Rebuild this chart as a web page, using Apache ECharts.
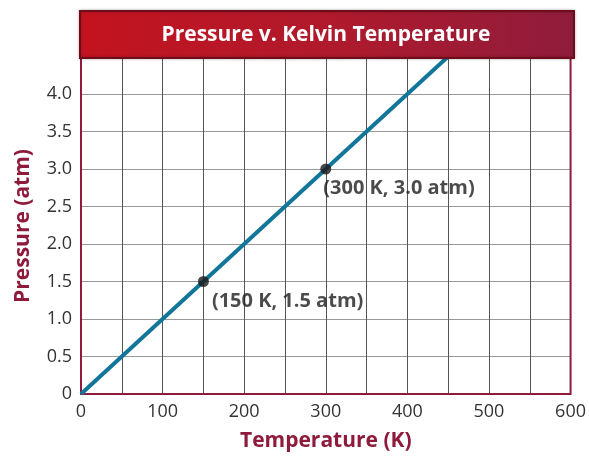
<!DOCTYPE html>
<html><head><meta charset="utf-8">
<script src="https://cdn.jsdelivr.net/npm/echarts@6/dist/echarts.min.js"></script>
<style>html,body{margin:0;padding:0;background:#fff}#c{width:589px;height:458px}</style>
</head><body><div id="c"></div>
<script>
const titleText = 'Pressure v. Kelvin Temperature';
const xAxisName = 'Temperature (K)';
const yAxisName = 'Pressure (atm)';
const temperatures = [0, 150, 300, 450];
const pressures = [0, 1.5, 3.0, 4.5];
const markedTemps = [150, 300];
const markedPressures = [1.5, 3.0];

const maroon = '#8e1b3b';
const font = '"Open Sans", "Noto Sans", sans-serif';
const chart = echarts.init(document.getElementById('c'), null, {renderer: 'canvas'});
const labelOffsets = [[14, 25], [3, 25]];
chart.setOption({
  backgroundColor: '#fff',
  animation: false,
  grid: {left: 81, right: 18, top: 58, bottom: 64, show: true, borderColor: maroon, borderWidth: 2, z: 3},
  graphic: [{
    type: 'rect', x: 80, y: 11, z: 10,
    shape: {width: 494, height: 47},
    style: {
      fill: new echarts.graphic.LinearGradient(0, 0, 1, 0, [
        {offset: 0, color: '#c3131f'}, {offset: 0.5, color: '#b01a2c'}, {offset: 1, color: '#8f1c3c'}]),
      stroke: '#6e0c1c', lineWidth: 2,
      shadowBlur: 3, shadowColor: 'rgba(0,0,0,0.25)'
    }
  }, {
    type: 'text', x: 326, y: 35, z: 11,
    style: {text: titleText, fill: '#fff', font: 'bold 21px ' + font,
      textAlign: 'center', textVerticalAlign: 'middle'}
  }],
  xAxis: {
    type: 'value', min: 0, max: 600, interval: 50,
    name: xAxisName, nameLocation: 'middle', nameGap: 37,
    nameTextStyle: {color: maroon, fontSize: 21, fontWeight: 'bold', fontFamily: font},
    axisLine: {show: false}, axisTick: {show: false},
    axisLabel: {color: '#333', fontSize: 18, fontFamily: font, margin: 9,
      formatter: v => (v % 100 === 0 ? String(v) : '')},
    splitLine: {show: true, lineStyle: {color: '#555', width: 1}}
  },
  yAxis: {
    type: 'value', min: 0, max: 4.48, interval: 0.5,
    name: yAxisName, nameLocation: 'middle', nameGap: 47,
    nameTextStyle: {color: maroon, fontSize: 21, fontWeight: 'bold', fontFamily: font},
    axisLine: {show: false}, axisTick: {show: false},
    axisLabel: {color: '#333', fontSize: 18, fontFamily: font, margin: 9, showMaxLabel: false,
      formatter: v => (v === 0 ? '0' : (Math.abs(v * 2 - Math.round(v * 2)) < 1e-9 ? v.toFixed(1) : ''))},
    splitLine: {show: true, lineStyle: {color: '#999', width: 1}}
  },
  series: [{
    type: 'line', data: temperatures.map((t, i) => [t, pressures[i]]),
    showSymbol: false, clip: true, z: 4,
    lineStyle: {color: '#12769a', width: 4}
  }, {
    type: 'scatter', z: 5, clip: false,
    data: markedTemps.map((t, i) => ({
      value: [t, markedPressures[i]],
      label: {position: labelOffsets[i]}
    })),
    symbolSize: 11, itemStyle: {color: '#1a1a1a'},
    label: {show: true, align: 'left', verticalAlign: 'middle', color: '#1e1e1e', fontSize: 20,
      fontWeight: 'bold', fontFamily: font,
      formatter: p => '(' + p.value[0] + ' K, ' + p.value[1].toFixed(1) + ' atm)'}
  }]
});
</script></body></html>
